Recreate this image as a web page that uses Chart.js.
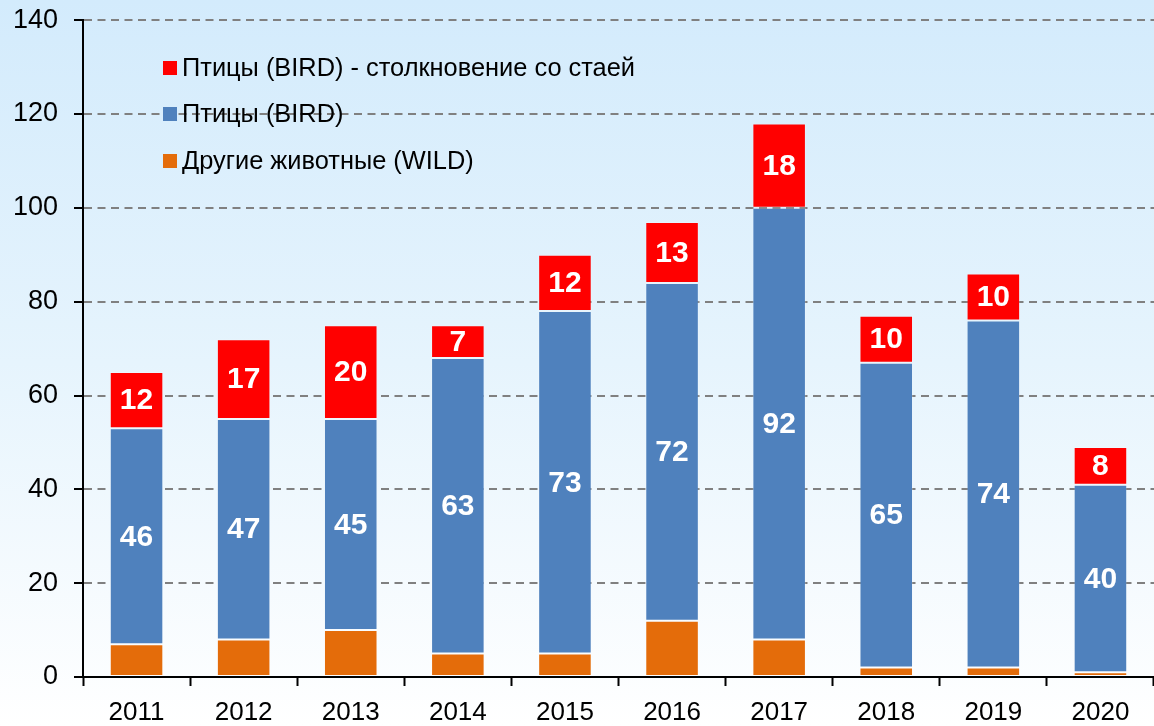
<!DOCTYPE html>
<html>
<head>
<meta charset="utf-8">
<script src="https://cdn.jsdelivr.net/npm/chart.js@4"></script>
<style>
  html, body { margin: 0; padding: 0; }
  body { width: 1154px; height: 726px; overflow: hidden; }
  #wrap { width: 1154px; height: 726px; overflow: hidden; background: linear-gradient(to bottom, #d3ebfc 0%, #e6f4fd 50%, #ffffff 100%); }
  canvas { display: block; margin-top: -12px; }
</style>
</head>
<body>
<div id="wrap"><canvas id="c" width="1154" height="738"></canvas></div>
<script>
const categories = ['2011','2012','2013','2014','2015','2016','2017','2018','2019','2020'];
const wildValues = [7, 8, 10, 5, 5, 12, 8, 2, 2, 1];
const birdValues = [46, 47, 45, 63, 73, 72, 92, 65, 74, 40];
const flockValues = [12, 17, 20, 7, 12, 13, 18, 10, 10, 8];
const seriesNames = ['Другие животные (WILD)', 'Птицы (BIRD)', 'Птицы (BIRD) - столкновение со стаей'];
const seriesColors = ['#e46c0a', '#4f81bd', '#ff0000'];
const yTicks = [0, 20, 40, 60, 80, 100, 120, 140];

const FONT = "'Liberation Sans', Arial, sans-serif";
const SHIFT = 12; // canvas is shifted up by this many pixels

const labelPlugin = {
  id: 'segLabels',
  afterDatasetsDraw(chart) {
    const ctx = chart.ctx;
    ctx.save();
    ctx.fillStyle = '#ffffff';
    ctx.font = 'bold 30px ' + FONT;
    ctx.textAlign = 'center';
    ctx.textBaseline = 'middle';
    [1, 2].forEach(di => {
      const meta = chart.getDatasetMeta(di);
      meta.data.forEach((el, i) => {
        const p = el.getProps(['x', 'y', 'base'], true);
        const v = chart.data.datasets[di].data[i];
        ctx.fillText(String(v), p.x, (p.y + p.base) / 2 + 1);
      });
    });
    ctx.restore();
  }
};

const legendPlugin = {
  id: 'innerLegend',
  afterDraw(chart) {
    const ctx = chart.ctx;
    ctx.save();
    ctx.font = '25.4px ' + FONT;
    ctx.textBaseline = 'middle';
    ctx.textAlign = 'left';
    const rows = [2, 1, 0];
    const ys = [68, 114, 161];
    rows.forEach((di, k) => {
      const y = ys[k] + SHIFT;
      ctx.fillStyle = seriesColors[di];
      ctx.fillRect(163, y - 7, 14, 14);
      ctx.fillStyle = '#000000';
      ctx.fillText(seriesNames[di], 182, y + 1);
    });
    ctx.restore();
  }
};

new Chart(document.getElementById('c'), {
  type: 'bar',
  data: {
    labels: categories,
    datasets: [
      { label: seriesNames[0], data: wildValues, backgroundColor: seriesColors[0], borderColor: 'rgba(255,255,255,0.18)', borderWidth: 1, borderSkipped: false },
      { label: seriesNames[1], data: birdValues, backgroundColor: seriesColors[1], borderColor: 'rgba(255,255,255,0.18)', borderWidth: 1, borderSkipped: false },
      { label: seriesNames[2], data: flockValues, backgroundColor: seriesColors[2], borderColor: 'rgba(255,255,255,0.18)', borderWidth: 1, borderSkipped: false }
    ]
  },
  options: {
    responsive: false,
    animation: false,
    devicePixelRatio: 1,
    layout: { padding: { top: 8, right: 0, bottom: 0, left: 0 } },
    datasets: { bar: { barPercentage: 0.5, categoryPercentage: 1.0 } },
    plugins: { legend: { display: false }, tooltip: { enabled: false } },
    scales: {
      x: {
        stacked: true,
        afterFit(s) { s.height = 49; },
        grid: { offset: true, drawOnChartArea: false, drawTicks: true, tickLength: 9, tickColor: '#000000', tickWidth: 2 },
        border: { display: true, color: '#000000', width: 2 },
        ticks: { color: '#000000', font: { family: FONT, size: 26 }, padding: 11, maxRotation: 0 }
      },
      y: {
        stacked: true,
        min: 0, max: 140,
        afterFit(s) { s.width = 83; },
        afterBuildTicks(s) { s.ticks = yTicks.map(v => ({ value: v })); },
        grid: {
          color: ctx => (ctx.tick && ctx.tick.value === 0) ? 'rgba(0,0,0,0)' : '#808080',
          lineWidth: 2,
          tickLength: 9, tickColor: '#000000', tickWidth: 2, tickBorderDash: []
        },
        border: { display: true, color: '#000000', width: 2, dash: [8, 5.5] },
        ticks: { color: '#000000', font: { family: FONT, size: 27 }, padding: 16 }
      }
    }
  },
  plugins: [labelPlugin, legendPlugin]
});
</script>
</body>
</html>
